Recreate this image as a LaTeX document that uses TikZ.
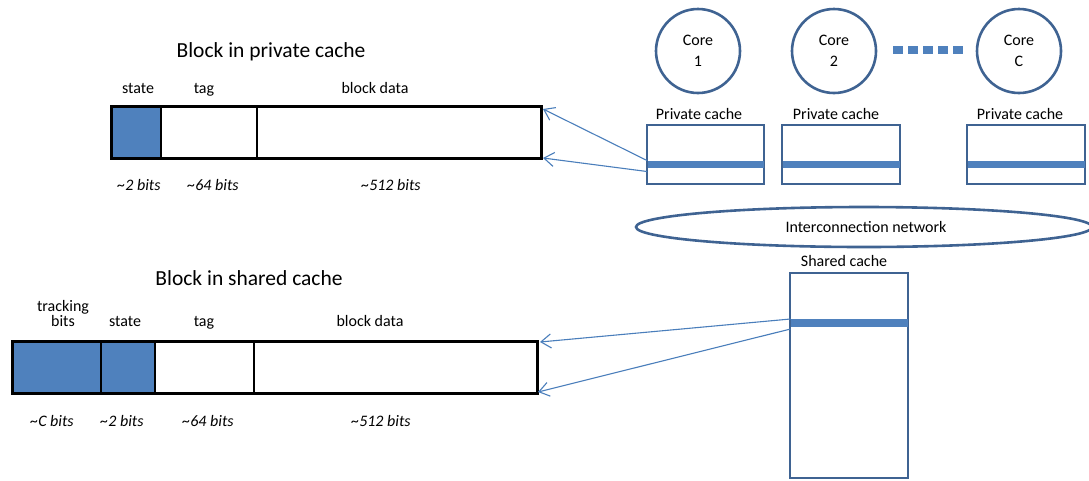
\documentclass[tikz,border=0pt]{standalone}
\usepackage{fontspec}
\setmainfont{Carlito}
\usetikzlibrary{arrows.meta,shapes.geometric}
\definecolor{fillblue}{HTML}{4F81BD}
\definecolor{edgeblue}{HTML}{3F6392}
\definecolor{arrowblue}{HTML}{4A7EBB}
\begin{document}
\begin{tikzpicture}[x=1pt,y=-1pt,
  field/.style={draw=black, line width=2.2pt, minimum height=52pt, inner sep=0pt, outer sep=0pt, anchor=north west},
  bluefield/.style={field, fill=fillblue},
  outline/.style={draw=black, line width=3pt, minimum height=52pt, inner sep=0pt, outer sep=0pt, anchor=north west},
  lbl/.style={font=\fontsize{16}{15}\selectfont, anchor=base, inner sep=0pt, align=center},
  ilbl/.style={font=\fontsize{16}{15}\selectfont\itshape, anchor=base, inner sep=0pt},
  title/.style={font=\fontsize{21.5}{24}\selectfont, anchor=base, inner sep=0pt},
  core/.style={circle, draw=edgeblue, line width=2.6pt, minimum size=84pt, inner sep=0pt, align=center, font=\fontsize{16}{21.5}\selectfont},
  cachebox/.style={draw=edgeblue, line width=2.6pt, inner sep=0pt, outer sep=0pt},
  bar/.style={fill=fillblue, inner sep=0pt, outer sep=0pt},
  arr/.style={draw=arrowblue, line width=1.1pt, -{Straight Barb[length=10pt,width=14pt]}}
]
\useasboundingbox (0,0) rectangle (1089,480);

% ---------- Block in private cache ----------
\node[title] (ptitle) at (271,57) {Block in private cache};
\node[bluefield, minimum width=50pt] (pstate) at (111,106) {};
\node[field, minimum width=96pt] (ptag) at (161,106) {};
\node[field, minimum width=284pt] (pdata) at (257,106) {};
\node[outline, minimum width=430pt] (pblock) at (111,106) {};
\node[lbl] (pstatel) at (138,93) {state};
\node[lbl] (ptagl) at (204,93) {tag};
\node[lbl] (pdatal) at (375,93) {block data};
\node[ilbl] (pstateb) at (139,190) {\textasciitilde2 bits};
\node[ilbl] (ptagb) at (213,190) {\textasciitilde64 bits};
\node[ilbl] (pdatab) at (391,190) {\textasciitilde512 bits};

% ---------- Block in shared cache ----------
\node[title] (stitle) at (249,285) {Block in shared cache};
\node[bluefield, minimum width=89pt] (strack) at (12,341) {};
\node[bluefield, minimum width=54pt] (sstate) at (101,341) {};
\node[field, minimum width=99pt] (stag) at (155,341) {};
\node[field, minimum width=283pt] (sdata) at (254,341) {};
\node[outline, minimum width=525pt] (sblock) at (12,341) {};
\node[lbl] (strackl) at (63,326) {tracking\\bits};
\node[lbl] (sstatel) at (125,326) {state};
\node[lbl] (stagl) at (204,326) {tag};
\node[lbl] (sdatal) at (370,326) {block data};
\node[ilbl] (strackb) at (52,426) {\textasciitilde C bits};
\node[ilbl] (sstateb) at (122,426) {\textasciitilde2 bits};
\node[ilbl] (stagb) at (208,426) {\textasciitilde64 bits};
\node[ilbl] (sdatab) at (381,426) {\textasciitilde512 bits};

% ---------- Cores ----------
\node[core] (core1) at (698,51) {Core\\1};
\node[core] (core2) at (834,51) {Core\\2};
\node[core] (coreC) at (1019,51) {Core\\C};
\draw[fillblue, line width=8pt, dash pattern=on 10pt off 5pt] (893,50) -- (963,50);

% ---------- Private caches ----------
\node[lbl] (pc1l) at (699,119.5) {Private cache};
\node[lbl] (pc2l) at (836,119.5) {Private cache};
\node[lbl] (pc3l) at (1020,119.5) {Private cache};
\node[cachebox, minimum width=117pt, minimum height=59pt] (pc1) at (705.5,154.5) {};
\node[cachebox, minimum width=118pt, minimum height=59pt] (pc2) at (841,154.5) {};
\node[cachebox, minimum width=118pt, minimum height=59pt] (pc3) at (1026,154.5) {};
\node[bar, minimum width=116pt, minimum height=7pt] (pc1bar) at (705.5,164) {};
\node[bar, minimum width=117pt, minimum height=7pt] (pc2bar) at (841,164) {};
\node[bar, minimum width=117pt, minimum height=7pt] (pc3bar) at (1026,164) {};

% ---------- Interconnection network ----------
\node[ellipse, draw=edgeblue, line width=2.6pt, minimum width=456pt, minimum height=40pt, inner sep=0pt] (net) at (864,227) {};
\node[lbl] (netl) at (866,232.5) {Interconnection network};

% ---------- Shared cache ----------
\node[lbl] (scl) at (844,266) {Shared cache};
\node[cachebox, minimum width=118pt, minimum height=205pt] (sc) at (849,375.5) {};
\node[bar, minimum width=117pt, minimum height=8pt] (scbar) at (849,323) {};

% ---------- Arrows ----------
\draw[arr] ([yshift=-6pt]pc1.west) -- ([xshift=2pt,yshift=-3pt]pdata.north east);
\draw[arr] ([yshift=-17pt]pc1.west) -- ([xshift=2pt]pdata.south east);
\draw[arr] ([yshift=4pt]scbar.west) -- ([xshift=3pt,yshift=-1pt]sdata.north east);
\draw[arr] ([yshift=-6pt]scbar.west) -- ([xshift=1pt,yshift=1pt]sdata.south east);
\end{tikzpicture}
\end{document}
